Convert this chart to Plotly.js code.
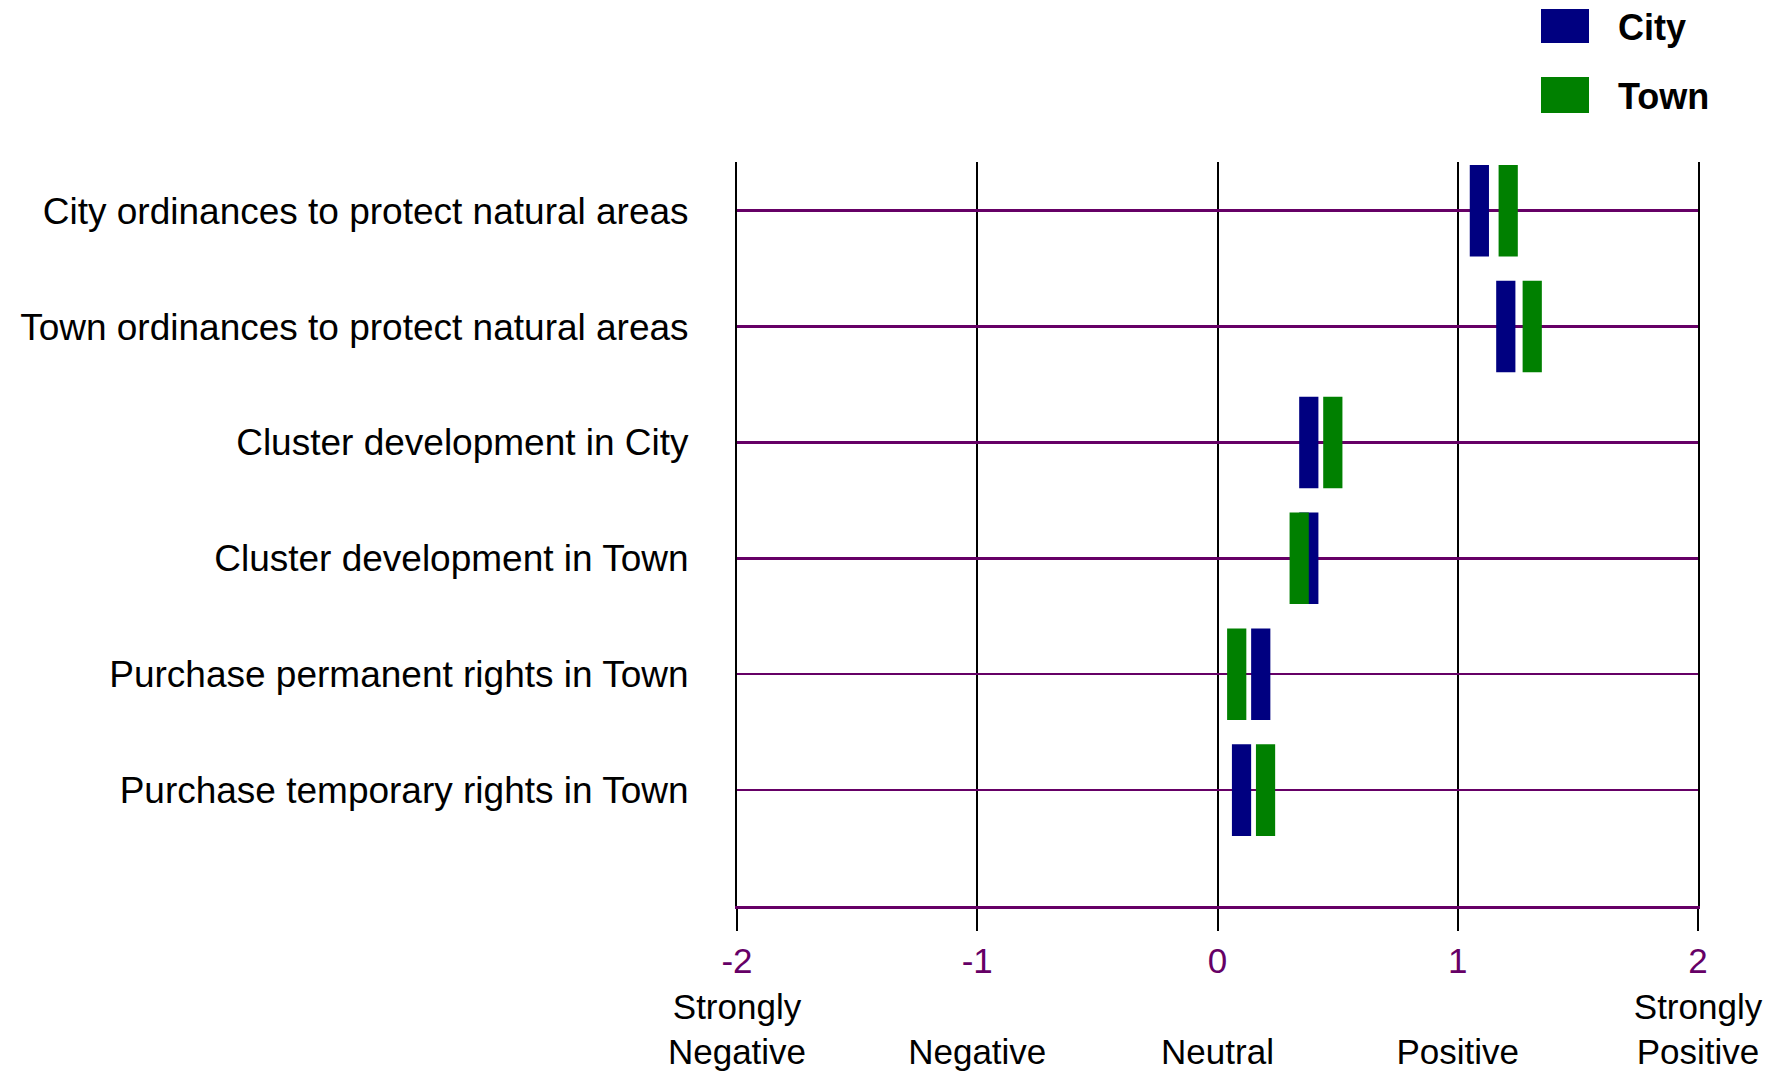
<!DOCTYPE html>
<html>
<head>
<meta charset="utf-8">
<script src="https://cdn.plot.ly/plotly-3.0.1.min.js"></script>
<style>html,body{margin:0;padding:0;background:#fff;}#chart{width:1786px;height:1074px;}</style>
</head>
<body>
<div id="chart"></div>
<script>
// ---- data ----
const categories = [
  "City ordinances to protect natural areas",
  "Town ordinances to protect natural areas",
  "Cluster development in City",
  "Cluster development in Town",
  "Purchase permanent rights in Town",
  "Purchase temporary rights in Town"
];
const cityValues = [1.09, 1.20, 0.38, 0.38, 0.18, 0.10];
const townValues = [1.21, 1.31, 0.48, 0.34, 0.08, 0.20];
const seriesNames = ["City", "Town"];
const tickValues = [-2, -1, 0, 1, 2];
const tickNumbers = ["-2", "-1", "0", "1", "2"];
const tickWords = [["Strongly", "Negative"], ["", "Negative"], ["", "Neutral"], ["", "Positive"], ["Strongly", "Positive"]];

// ---- styles ----
const colors = ["#000080", "#008000"];
const purple = "#660066";
const font = "Liberation Sans, Arial, sans-serif";
const markW = 0.08;   // bar thickness in value units (style)

function seriesTrace(vals, i) {
  return {
    type: "bar",
    orientation: "h",
    y: categories,
    x: vals.map(() => markW),
    base: vals.map(v => v - markW / 2),
    width: 0.79,
    name: seriesNames[i],
    marker: {color: colors[i], line: {width: 0}},
    showlegend: false,
    hovertemplate: seriesNames[i] + ": %{customdata}<extra>%{y}</extra>",
    customdata: vals
  };
}

const ticktext = tickNumbers.map((n, i) =>
  '<span style="color:' + purple + '">' + n + '</span><br>' +
  (tickWords[i][0] || '&nbsp;') + '<br>' + tickWords[i][1]);

// plot area in pixels
const L = 737, R = 1698, T = 162, B = 906, W = 1786, H = 1074;
const px = x => (x - L) / (R - L);
const py = y => (B - y) / (B - T);

const shapes = [];
const annotations = [];
const legendRows = [{y0: 9, y1: 43, ty: 28}, {y0: 77, y1: 113, ty: 96}];
seriesNames.forEach((name, i) => {
  const r = legendRows[i];
  shapes.push({type: "rect", xref: "paper", yref: "paper",
    x0: px(1541), x1: px(1589), y0: py(r.y1), y1: py(r.y0),
    fillcolor: colors[i], line: {width: 0}});
  annotations.push({xref: "paper", yref: "paper", x: px(1616), y: py(r.ty),
    xanchor: "left", yanchor: "middle", showarrow: false,
    text: "<b>" + name + "</b>", font: {family: font, size: 36, color: "#000"}});
});

const layout = {
  width: W, height: H,
  margin: {l: L, r: W - R, t: T, b: H - B, pad: 0},
  paper_bgcolor: "#fff", plot_bgcolor: "#fff",
  barmode: "overlay",
  showlegend: false,
  font: {family: font, color: "#000"},
  xaxis: {
    range: [-2, 2],
    tickvals: tickValues, ticktext: ticktext,
    showgrid: true, gridcolor: "#000", gridwidth: 2,
    zeroline: false,
    showline: true, linecolor: purple, linewidth: 3,
    ticks: "outside", ticklen: 22, tickwidth: 2, tickcolor: "#000",
    tickfont: {family: font, size: 35, color: "#000"},
    ticklabelstandoff: 0,
    fixedrange: true
  },
  yaxis: {
    type: "category",
    range: [6, -0.42],
    showgrid: true, gridcolor: purple, gridwidth: 2.5,
    zeroline: false,
    showline: true, linecolor: "#000", linewidth: 2, mirror: true,
    ticks: "",
    tickfont: {family: font, size: 37, color: "#000"},
    ticklabelstandoff: 39,
    fixedrange: true
  },
  shapes: shapes,
  annotations: annotations
};

Plotly.newPlot("chart", [seriesTrace(cityValues, 0), seriesTrace(townValues, 1)], layout, {displayModeBar: false, staticPlot: true});
</script>
</body>
</html>
